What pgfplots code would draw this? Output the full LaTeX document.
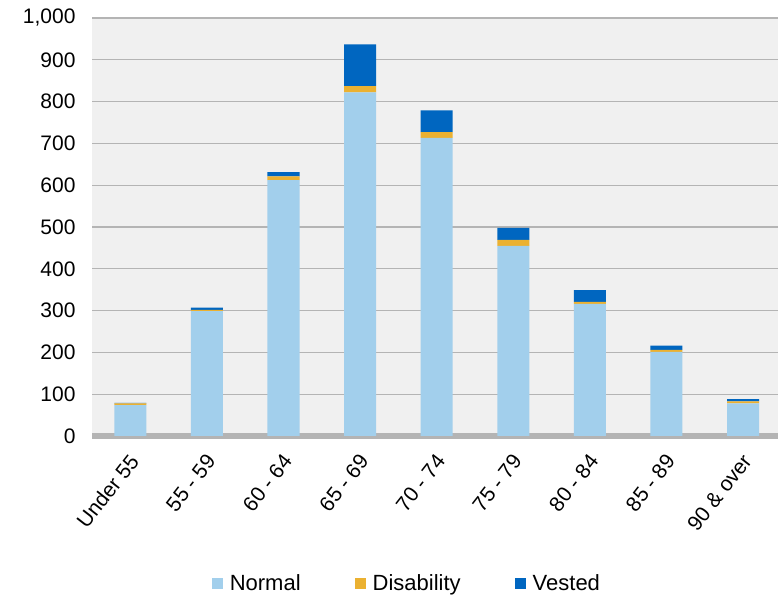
\documentclass[border=0pt]{standalone}
\usepackage{pgfplots}
\pgfplotsset{compat=1.18}
\usepackage{fontspec}
\setmainfont{Liberation Sans}

\definecolor{normalc}{HTML}{A2CFEC}
\definecolor{disabc}{HTML}{EBB131}
\definecolor{vestedc}{HTML}{0066C0}
\definecolor{gridc}{HTML}{B4B4B4}
\definecolor{bgc}{HTML}{F0F0F0}

\begin{document}
\begin{tikzpicture}[x=1bp,y=1bp]
\path[use as bounding box] (0,0) rectangle (778,595);
\begin{axis}[
  at={(92bp,159bp)}, anchor=south west,
  scale only axis,
  width=686bp, height=418bp,
  ybar stacked,
  bar width=32bp,
  xmin=-0.5, xmax=8.456,
  ymin=0, ymax=1000,
  ytick={0,100,...,1000},
  xtick={0,...,8},
  xticklabels={Under 55, 55 - 59, 60 - 64, 65 - 69, 70 - 74, 75 - 79, 80 - 84, 85 - 89, 90 \& over},
  major tick length=0pt,
  axis background/.style={fill=bgc},
  axis line style={draw=none},
  ymajorgrids,
  grid style={draw=gridc, line width=1.3bp},
  font=\fontsize{21bp}{25bp}\selectfont,
  /pgf/number format/assume math mode=true,
  /pgf/number format/1000 sep={,},
  yticklabel style={anchor=east, xshift=-13bp},
  xticklabel style={xshift=4bp, yshift=-21bp, rotate=52, anchor=east, inner sep=0pt},
  legend columns=3,
  legend style={at={(0.459,-0.352)}, anchor=center, draw=none, fill=none,
    font=\fontsize{22bp}{26bp}\selectfont,
    /tikz/every odd column/.append style={column sep=5bp},
    /tikz/every even column/.append style={column sep=52bp}},
  legend image code/.code={\fill[#1] (0bp,-5.5bp) rectangle (11bp,5.5bp);},
  clip=false,
]
\addplot[fill=normalc, draw=none] coordinates {(0,74) (1,299) (2,612) (3,822) (4,713) (5,455) (6,316) (7,201) (8,78)};
\addplot[fill=disabc, draw=none] coordinates {(0,4) (1,3) (2,9) (3,15) (4,14) (5,14) (6,5) (7,5) (8,5)};
\addplot[fill=vestedc, draw=none] coordinates {(0,1) (1,5) (2,10) (3,100) (4,52) (5,29) (6,28) (7,10) (8,5)};
\legend{Normal, Disability, Vested}
\draw[gridc, line width=5.5bp] (axis cs:-0.5,0) -- (axis cs:8.456,0);
\end{axis}
\end{tikzpicture}
\end{document}
